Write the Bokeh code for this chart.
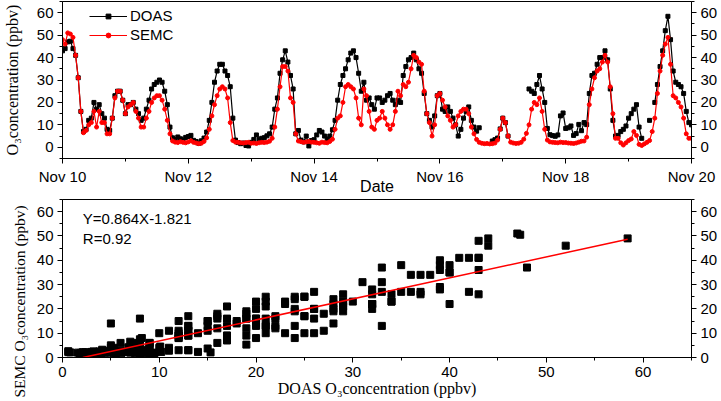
import numpy as np
import pandas as pd
from bokeh.plotting import figure
from bokeh.models import (LinearAxis, FixedTicker, Range1d, Label, Legend, LegendItem,
                          DatetimeTickFormatter, Title)
from bokeh.core.properties import value
from bokeh.layouts import column
from bokeh.embed import file_html
from bokeh.resources import INLINE

N = None
# hourly O3 (ppbv), one list per day, Nov 10 00:00 ... Nov 20 00:00
doas_nov10 = [43, 44, 47, 47.3, 44, 41, 31, 16, 7, 8, 12, 13, 20, 17, 19, 15, 13, 8, 7.5, 13, 23, 25, 25, 21]
semc_nov10 = [48, 46, 51, 50.5, 49, 41, 31, 16, 6.5, 7.5, 10, 11, 16, 9, 16, 11, 11, 6, 6, 13, 22, 25, 25, 21]
doas_nov11 = [15, 19, 19, 20, 17, 15, 12, 13, 17, 21, 26, 28, 29, 30, 29, 25, 19, 9, 4.2, 3.5, 4.6, 3.8, 3.2, 4.4]
semc_nov11 = [15, 18, 19, 20, 16, 13, 9, 9, 13, 16, 20, 22, 23, 23, 21, 17, 12, 6, 2.8, 2.3, 2.1, 2.5, 2.2, 2.0]
doas_nov12 = [4.8, 5.3, 3.1, 2.6, 1.8, 2.9, 4.1, 6.8, 12, 20, 29, 34, 37, 37, 34, 32, 27, 13, 3.2, 2.1, 1.6, 1.9, 0.8, 0.6]
semc_nov12 = [2.4, 2.9, 2.2, 1.9, 1.6, 1.8, 2.6, 4.2, 8, 14, 19, 23, 26, 27, 26, 22, 11, 3, 2.3, 2.2, 2.0, 1.9, 2.1, 2.2]
doas_nov13 = [2.2, 3.5, 5.5, 3.4, 4.0, 4.3, 5.1, 6.0, 9, 17, 22, 33, 39, 43, 38, 32, 26, 6, 7.5, 3.2, 2.4, 5.0, 0.6, 3.0]
semc_nov13 = [1.8, 1.9, 1.7, 2.0, 2.2, 2.1, 2.3, 2.7, 4, 9, 17, 27, 36, 36, 34, 22, 20, 6, 2.8, 2.5, 2.2, 2.4, 2.6, 2.3]
doas_nov14 = [3.4, 5.5, 7.5, 6.8, 5.0, 3.7, 5.0, 7.8, 12, 21, 28, 32, 35, 39, 42, 43, 40, 33, 25, 29, 21, 22, 19, 17]
semc_nov14 = [2.2, 2.0, 1.8, 2.3, 2.1, 2.0, 2.6, 3.6, 8, 13, 14, 20, 27, 28, 27, 26, 22, 13, 10, 26, 23, 16, 9, 8]
doas_nov15 = [22, 22, 20, 21, 23, 24, 21, 19, 21, 20, 32, 36, 39, 40, 42, 39, 35, 33, 24, 15, 12, 9, 14, 23]
semc_nov15 = [12, 13, 16, 13, 10, 8, 10, 16, 25, 23, 28, 27, 29, 35, 41, 40, 38, 37, 25, 15, 11, 5, 10, 23]
doas_nov16 = [24, 17, 16, 18, 16, 13, 10, 5, 8, 13, 16, 18, 12, 9, 7.2, 8.7, N, N, N, N, 2.8, 3.4, 4.1, 8.2]
semc_nov16 = [24, 21, 18, 14, 12, 9, 10, 14, 16, 17, 17, 15, 9, 6, 3.5, 2.2, 1.8, 1.6, 1.7, 1.5, 1.6, 1.9, 3.2, 8.0]
doas_nov17 = [13, 11, 5, N, N, N, N, N, N, N, 26, 25, 24, 28, 32, 26, 20, 8.4, 5.6, 5.2, 4.9, 5.5, 14.0, 15.3]
semc_nov17 = [13, 11, 5, 2.3, 1.9, 1.7, 1.8, 2.2, 3.6, 6.2, 10, 17, 20, 19, 22, 16, 8, 3.2, 2.4, 2.2, 2.1, 2.0, 2.3, 2.1]
doas_nov18 = [8.4, 8.7, 9.5, 5.3, 6.1, 10.2, 7.4, 11.0, 10.1, 24, 32, 33, 37, 40, 40, 43, 39, 26, 12, 5, 5.3, 7, 8, 9.5]
semc_nov18 = [2.1, 1.9, 1.8, 1.7, 1.9, 2.3, 2.7, 2.8, 4.5, 19, 26, 31, 34, 35, 38, 41, 38, 27, 15, 4, 4, 2, 1, 2]
doas_nov19 = [13, 15, 17, 19, 9, 4, N, N, 12, N, 20, 28, 36, 43, 52, 58.4, 48, 34, 29, 28, 27, 24, 16, 11, 10]
semc_nov19 = [3.0, 3.7, 7.0, 5.3, 1.3, 0.8, 1.5, 2.2, 3.0, 7, 13, 24, 34, 41, 46, 49, 37, 23, 22, 20, 18, 13, 6, 4, 4]

doas_days = [doas_nov10, doas_nov11, doas_nov12, doas_nov13, doas_nov14,
             doas_nov15, doas_nov16, doas_nov17, doas_nov18, doas_nov19]
semc_days = [semc_nov10, semc_nov11, semc_nov12, semc_nov13, semc_nov14,
             semc_nov15, semc_nov16, semc_nov17, semc_nov18, semc_nov19]

date_ticks = ["2013-11-10", "2013-11-12", "2013-11-14", "2013-11-16", "2013-11-18", "2013-11-20"]
value_ticks = [0, 10, 20, 30, 40, 50, 60]
value_minor = [-5, 5, 15, 25, 35, 45, 55, 65]

# regression
slope, intercept, r_value = 0.864, -1.821, 0.92
reg_x = [2.1, 58.4]

def to_arr(days):
    return np.array([np.nan if v is None else v for d in days for v in d], dtype=float)

doas = to_arr(doas_days)
semc = to_arr(semc_days)
times = pd.date_range("2013-11-10", periods=len(doas), freq="h")

def ms(s):
    return pd.Timestamp(s).value / 1e6

SANS = "Liberation Sans"
SERIF = "Liberation Serif"
INK = "black"

def style_axis(ax):
    ax.axis_line_color = INK
    ax.axis_line_width = 1
    ax.major_tick_line_color = INK
    ax.major_tick_out = 5
    ax.major_tick_in = 0
    ax.minor_tick_line_color = INK
    ax.minor_tick_out = 3
    ax.minor_tick_in = 0
    ax.major_label_text_font = SANS
    ax.major_label_text_font_size = "15px"
    ax.major_label_text_color = INK
    ax.major_label_standoff = 4
    ax.axis_label_text_color = INK

W = 720
# ---------------- top: time series ----------------
p1 = figure(width=W, height=198, output_backend="svg", toolbar_location=None,
            x_axis_type="datetime",
            x_range=Range1d(pd.Timestamp("2013-11-10"), pd.Timestamp("2013-11-20")),
            y_range=Range1d(-5, 65),
            min_border_left=58, min_border_right=28, min_border_top=1, min_border_bottom=40)
p1.grid.visible = False
p1.outline_line_color = INK
p1.outline_line_width = 1

l1 = p1.line(times, doas, color="black", line_width=1.2)
s1 = p1.scatter(times, doas, marker="square", size=4, color="black")
l2 = p1.line(times, semc, color="#ff0000", line_width=1.2)
s2 = p1.scatter(times, semc, marker="circle", size=4, color="#ff0000")

day_ms = [ms(d) for d in pd.date_range("2013-11-10", "2013-11-20", freq="D")]
xa = p1.xaxis[0]
xa.ticker = FixedTicker(ticks=[ms(d) for d in date_ticks], minor_ticks=day_ms)
fmt = "%b %d"
xa.formatter = DatetimeTickFormatter(days=fmt, months=fmt, hours=fmt, years=fmt,
                                     hourmin=fmt, minutes=fmt, seconds=fmt,
                                     minsec=fmt, milliseconds=fmt, microseconds=fmt)
style_axis(xa)
xa.axis_label = "Date"
xa.axis_label_text_font = SANS
xa.axis_label_text_font_size = "16px"
xa.axis_label_text_font_style = "normal"
xa.axis_label_standoff = -10

ya = p1.yaxis[0]
ya.ticker = FixedTicker(ticks=value_ticks, minor_ticks=value_minor)
style_axis(ya)
ya.axis_label = "O\u2083concentration (ppbv)"
ya.axis_label_text_font = SERIF
ya.axis_label_text_font_size = "16px"
ya.axis_label_text_font_style = "normal"
ya.axis_label_standoff = 13

yr = LinearAxis(ticker=FixedTicker(ticks=value_ticks, minor_ticks=value_minor))
style_axis(yr)
p1.add_layout(yr, "right")

legend = Legend(items=[LegendItem(label=value("DOAS"), renderers=[l1, s1]),
                       LegendItem(label=value("SEMC"), renderers=[l2, s2])],
                location=(27, 114), border_line_color=None, background_fill_alpha=0,
                label_text_font=SANS, label_text_font_size="15px", label_text_color=INK,
                glyph_width=38, glyph_height=12, label_height=19, spacing=0,
                padding=0, margin=0, label_standoff=3)
p1.add_layout(legend)

# ---------------- bottom: scatter ----------------
mask = ~np.isnan(doas) & ~np.isnan(semc)
p2 = figure(width=W, height=202, output_backend="svg", toolbar_location=None,
            x_range=Range1d(0, 65), y_range=Range1d(0, 65),
            min_border_left=58, min_border_right=28, min_border_top=1, min_border_bottom=43)
p2.grid.visible = False
p2.outline_line_color = INK
p2.outline_line_width = 1

p2.scatter(doas[mask], semc[mask], marker="square", size=7, color="black")
reg_y = [slope * x + intercept for x in reg_x]
p2.line(reg_x, reg_y, color="#ff0000", line_width=1.5)

minor10 = [5, 15, 25, 35, 45, 55, 65]
xb = p2.xaxis[0]
xb.ticker = FixedTicker(ticks=value_ticks, minor_ticks=minor10)
style_axis(xb)
yb = p2.yaxis[0]
yb.ticker = FixedTicker(ticks=value_ticks, minor_ticks=minor10)
style_axis(yb)
yb2 = LinearAxis(ticker=FixedTicker(ticks=value_ticks, minor_ticks=minor10))
style_axis(yb2)
p2.add_layout(yb2, "right")

p2.add_layout(Label(x=2.1, y=57, text=f"Y={slope}X{intercept}", text_font=SANS,
                    text_font_size="15px", text_baseline="alphabetic", text_color=INK))
p2.add_layout(Label(x=2.1, y=49, text=f"R={r_value}", text_font=SANS,
                    text_font_size="15px", text_baseline="alphabetic", text_color=INK))

p2.add_layout(Title(text="DOAS O\u2083concentration (ppbv)", align="center", offset=-32,
                    text_font=SERIF, text_font_size="16px", text_font_style="normal",
                    text_color=INK, standoff=-4), "below")
p2.add_layout(Title(text="SEMC O\u2083concentration (ppbv)", align="left", offset=-40,
                    text_font=SERIF, text_font_size="15.5px", text_font_style="normal",
                    text_color=INK, standoff=12), "left")

layout = column(p1, p2)
open("out.html", "w").write(file_html(layout, INLINE))
